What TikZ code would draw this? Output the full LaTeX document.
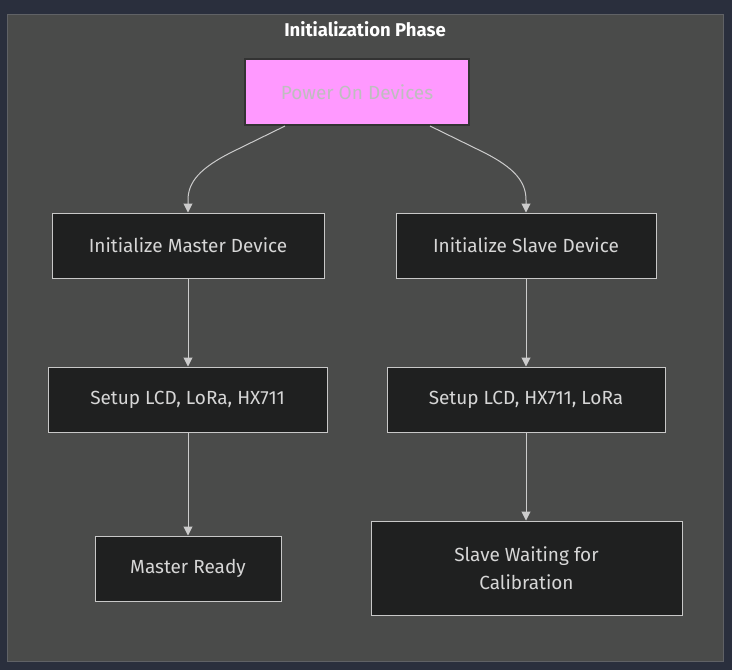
\documentclass[tikz,border=0pt]{standalone}
\usepackage{fontspec}
\setmainfont{Fira Sans}
\usetikzlibrary{arrows.meta}
\definecolor{bgnavy}{RGB}{42,47,61}
\definecolor{clfill}{RGB}{74,75,74}
\definecolor{clborder}{RGB}{96,98,102}
\definecolor{nfill}{RGB}{31,32,32}
\definecolor{nborder}{RGB}{200,200,200}
\definecolor{ntext}{RGB}{214,214,214}
\definecolor{pinkfill}{RGB}{255,153,255}
\definecolor{pinkborder}{RGB}{51,51,51}
\definecolor{pinktext}{RGB}{190,190,190}
\definecolor{edgecol}{RGB}{204,204,204}
\tikzset{
  box/.style={draw=nborder, fill=nfill, line width=1pt, text=ntext, font=\fontsize{19}{28}\selectfont, inner sep=0pt, align=center},
  pinkbox/.style={draw=pinkborder, fill=pinkfill, line width=2pt, text=pinktext, font=\fontsize{19}{28}\selectfont, inner sep=0pt},
  edge/.style={draw=edgecol, line width=1pt, -{Triangle[length=9pt,width=9pt]}},
}
\begin{document}
\begin{tikzpicture}[x=1pt,y=-1pt]
\useasboundingbox (0,0) rectangle (732,670);
\fill[bgnavy] (0,0) rectangle (732,670);
\draw[fill=clfill, draw=clborder, line width=1pt] (7.5,14.5) rectangle (723.5,661.5);
\node[text=white, font=\fontsize{18.5}{20}\selectfont\bfseries] (title) at (365,29) {Initialization Phase};
\node[pinkbox, minimum width=224pt, minimum height=66pt] (power) at (357,92) {Power On Devices};
\node[box, minimum width=272pt, minimum height=65pt] (imaster) at (188,245.5) {Initialize Master Device};
\node[box, minimum width=260pt, minimum height=65pt] (islave) at (526,245.5) {Initialize Slave Device};
\node[box, minimum width=279pt, minimum height=65pt] (smaster) at (187.5,399.5) {Setup LCD, LoRa, HX711};
\node[box, minimum width=278pt, minimum height=65pt] (sslave) at (526,399.5) {Setup LCD, HX711, LoRa};
\node[box, minimum width=186pt, minimum height=65pt] (mready) at (188,568.5) {Master Ready};
\node[box, minimum width=311pt, minimum height=94pt] (swait) at (526.5,568) {Slave Waiting for\\Calibration};
\coordinate (pl) at ([xshift=-72pt]power.south);
\coordinate (pr) at ([xshift=73pt]power.south);
\draw[edge] (pl) -- (232,152) .. controls (200,168) and (188,182) .. (188,200) -- (imaster.north);
\draw[edge] (pr) -- (483,152) .. controls (515,168) and (526,182) .. (526,200) -- (islave.north);
\draw[edge] (imaster.south) -- (imaster.south |- smaster.north);
\draw[edge] (islave.south) -- (islave.south |- sslave.north);
\draw[edge] (smaster.south -| mready.north) -- (mready.north);
\draw[edge] (sslave.south) -- (sslave.south |- swait.north);
\end{tikzpicture}
\end{document}
